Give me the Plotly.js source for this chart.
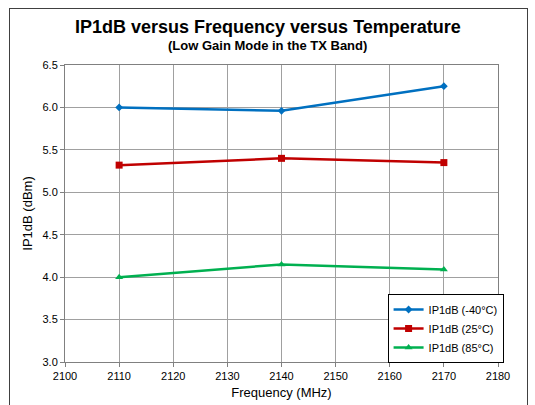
<!DOCTYPE html>
<html><head><meta charset="utf-8">
<script src="https://cdn.plot.ly/plotly-3.0.1.min.js"></script>
<style>
html,body{margin:0;padding:0;background:#fff;}
#frame{position:absolute;left:9px;top:8px;width:519px;height:405px;border:1px solid #404040;box-sizing:border-box;}
#chart{position:absolute;left:0;top:0;width:535px;height:405px;}
</style></head>
<body>
<div id="frame"></div>
<div id="chart"></div>
<script>
const freq = [2110, 2140, 2170];
const ip_m40 = [6.00, 5.96, 6.25];
const ip_25 = [5.32, 5.40, 5.35];
const ip_85 = [4.00, 4.15, 4.09];
const names = ['IP1dB (-40°C)', 'IP1dB (25°C)', 'IP1dB (85°C)'];
const colors = ['#0070C0', '#C00000', '#00B050'];
const symbols = ['diamond', 'square', 'triangle-up'];
const sizes = [6, 7, 7];
const series = [ip_m40, ip_25, ip_85];
const traces = series.map((y, i) => ({
  x: freq, y: y, name: names[i], type: 'scatter', mode: 'lines+markers',
  line: {color: colors[i], width: 2.5},
  marker: {color: colors[i], symbol: symbols[i], size: sizes[i]}
}));
const font = 'Liberation Sans, Arial, sans-serif';
Plotly.newPlot('chart', traces, {
  width: 535, height: 405,
  margin: {l: 65, r: 37, t: 65, b: 43},
  paper_bgcolor: 'rgba(0,0,0,0)', plot_bgcolor: '#fff',
  font: {family: font, size: 11, color: '#000'},
  annotations: [
    {text: '<b>IP1dB versus Frequency versus Temperature</b>', xref: 'paper', yref: 'paper',
     x: 0.468, y: 1.128, xanchor: 'center', yanchor: 'middle', showarrow: false, font: {size: 18}},
    {text: '<b>(Low Gain Mode in the TX Band)</b>', xref: 'paper', yref: 'paper',
     x: 0.468, y: 1.064, xanchor: 'center', yanchor: 'middle', showarrow: false, font: {size: 13}}
  ],
  xaxis: {range: [2100, 2180], dtick: 10, tick0: 2100, showgrid: true, gridcolor: '#a0a0a0', gridwidth: 1,
    showline: true, linecolor: '#808080', mirror: true, ticks: 'outside', ticklen: 4, tickcolor: '#808080',
    zeroline: false, title: {text: 'Frequency (MHz)', font: {size: 13}, standoff: 6}},
  yaxis: {range: [3.0, 6.5], dtick: 0.5, tickformat: '.1f', showgrid: true, gridcolor: '#a0a0a0', gridwidth: 1,
    showline: true, linecolor: '#808080', mirror: true, ticks: 'outside', ticklen: 4, tickcolor: '#808080',
    zeroline: false, title: {text: 'IP1dB (dBm)', font: {size: 13}, standoff: 6}},
  legend: {x: 0.745, y: 0.229, xanchor: 'left', yanchor: 'top', bgcolor: '#fff', bordercolor: '#000', borderwidth: 1,
    font: {size: 11}, tracegroupgap: 0, itemwidth: 30},
  showlegend: true
}, {displayModeBar: false, staticPlot: true});
</script>
</body></html>
